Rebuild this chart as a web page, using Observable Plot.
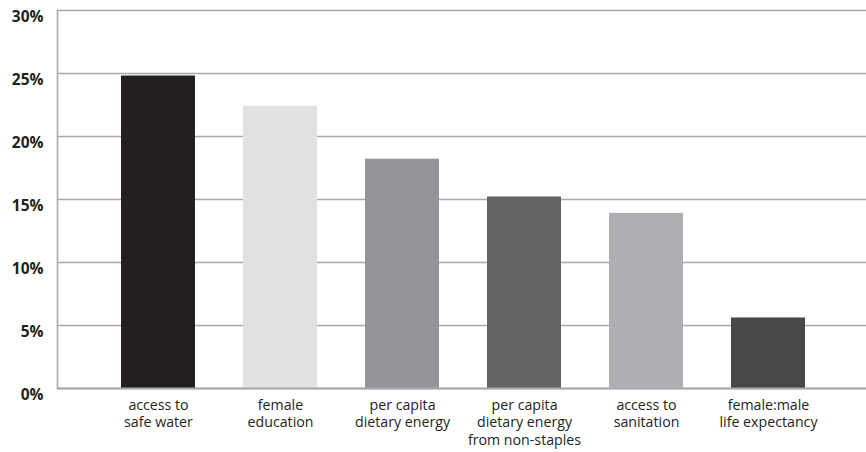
<!DOCTYPE html>
<html>
<head>
<meta charset="utf-8">
<script src="https://cdn.jsdelivr.net/npm/d3@7"></script>
<script src="https://cdn.jsdelivr.net/npm/@observablehq/plot@0.6"></script>
<style>
  html, body { margin: 0; padding: 0; background: #fff; }
  #chart svg { display: block; }
</style>
</head>
<body>
<div id="chart"></div>
<script>
const categories = [
  "access to\nsafe water",
  "female\neducation",
  "per capita\ndietary energy",
  "per capita\ndietary energy\nfrom non-staples",
  "access to\nsanitation",
  "female:male\nlife expectancy"
];
const values = [24.8, 22.4, 18.2, 15.2, 13.9, 5.6];
const colors = ["#231f20", "#e0e1e3", "#939598", "#636466", "#adafb2", "#474849"];
const yTicks = [0, 5, 10, 15, 20, 25, 30];

const data = categories.map((c, i) => ({category: c, value: values[i], color: colors[i]}));

const chart = Plot.plot({
  width: 866,
  height: 452,
  marginTop: 10,
  marginBottom: 64,
  marginLeft: 57,
  marginRight: 0,
  style: {fontFamily: "'Open Sans', sans-serif", color: "#231f20", background: "#fff"},
  x: {domain: categories, paddingInner: 0.393, paddingOuter: 0.51, align: 0.515, label: null},
  y: {domain: [0, 30], label: null},
  marks: [
    Plot.gridY(yTicks, {stroke: "#a7a9ac", strokeOpacity: 1, strokeWidth: 1.3}),
    Plot.frame({anchor: "left", stroke: "#a7a9ac", strokeWidth: 1.6}),
    Plot.barY(data, {x: "category", y: "value", fill: "color"}),
    Plot.ruleY([0], {stroke: "#a7a9ac", strokeWidth: 2}),
    Plot.axisY(yTicks, {
      tickSize: 0, tickPadding: 14, dy: 6.5,
      tickFormat: d => d + "%",
      fontSize: 15.5, fontWeight: "bold", fill: "#231f20", label: null
    }),
    Plot.axisX({
      tickSize: 0, tickPadding: 8.5, fontSize: 14.2, lineHeight: 1.24,
      fill: "#231f20", label: null
    })
  ]
});
document.getElementById("chart").appendChild(chart);
</script>
</body>
</html>
